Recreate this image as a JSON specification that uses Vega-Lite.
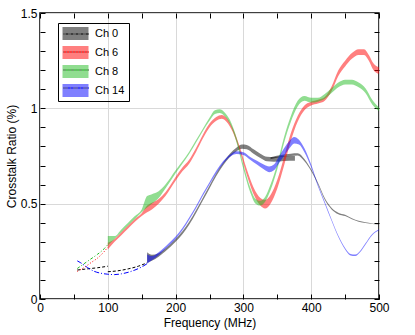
{
  "$schema": "https://vega.github.io/schema/vega-lite/v6.json",
  "width": 339,
  "height": 286,
  "autosize": "none",
  "padding": {"left": 40, "top": 13, "right": 36, "bottom": 36},
  "config": {
    "font": "Liberation Sans",
    "view": {"stroke": "#000000", "strokeWidth": 1.5},
    "axis": {"domain": false, "tickColor": "#000000", "labelColor": "#000000", "titleColor": "#000000", "labelFontSize": 12, "titleFontSize": 12, "titleFontWeight": "normal", "gridColor": "#d9d9d9", "gridWidth": 1}
  },
  "datasets": {
    "bands": [
      {"ch": "Ch 0", "seg": "A", "f": 158, "lo": 0.19, "hi": 0.245},
      {"ch": "Ch 0", "seg": "A", "f": 165, "lo": 0.2, "hi": 0.232},
      {"ch": "Ch 0", "seg": "A", "f": 175, "lo": 0.222, "hi": 0.24},
      {"ch": "Ch 0", "seg": "A", "f": 185, "lo": 0.25, "hi": 0.265},
      {"ch": "Ch 0", "seg": "A", "f": 200, "lo": 0.3, "hi": 0.315},
      {"ch": "Ch 0", "seg": "A", "f": 210, "lo": 0.34, "hi": 0.355},
      {"ch": "Ch 0", "seg": "A", "f": 220, "lo": 0.39, "hi": 0.405},
      {"ch": "Ch 0", "seg": "A", "f": 230, "lo": 0.45, "hi": 0.465},
      {"ch": "Ch 0", "seg": "A", "f": 240, "lo": 0.515, "hi": 0.53},
      {"ch": "Ch 0", "seg": "A", "f": 250, "lo": 0.58, "hi": 0.595},
      {"ch": "Ch 0", "seg": "A", "f": 260, "lo": 0.645, "hi": 0.66},
      {"ch": "Ch 0", "seg": "A", "f": 270, "lo": 0.7, "hi": 0.715},
      {"ch": "Ch 0", "seg": "A", "f": 280, "lo": 0.745, "hi": 0.762},
      {"ch": "Ch 0", "seg": "A", "f": 290, "lo": 0.775, "hi": 0.795},
      {"ch": "Ch 0", "seg": "A", "f": 298, "lo": 0.788, "hi": 0.81},
      {"ch": "Ch 0", "seg": "A", "f": 305, "lo": 0.785, "hi": 0.808},
      {"ch": "Ch 0", "seg": "A", "f": 315, "lo": 0.762, "hi": 0.785},
      {"ch": "Ch 0", "seg": "A", "f": 325, "lo": 0.74, "hi": 0.762},
      {"ch": "Ch 0", "seg": "A", "f": 335, "lo": 0.722, "hi": 0.746},
      {"ch": "Ch 0", "seg": "A", "f": 345, "lo": 0.72, "hi": 0.745},
      {"ch": "Ch 0", "seg": "A", "f": 360, "lo": 0.724, "hi": 0.75},
      {"ch": "Ch 0", "seg": "A", "f": 376, "lo": 0.725, "hi": 0.75},
      {"ch": "Ch 0", "seg": "B", "f": 340, "lo": 0.733, "hi": 0.743},
      {"ch": "Ch 0", "seg": "B", "f": 355, "lo": 0.745, "hi": 0.755},
      {"ch": "Ch 0", "seg": "B", "f": 370, "lo": 0.75, "hi": 0.762},
      {"ch": "Ch 0", "seg": "B", "f": 380, "lo": 0.752, "hi": 0.764},
      {"ch": "Ch 0", "seg": "B", "f": 390, "lo": 0.722, "hi": 0.734},
      {"ch": "Ch 0", "seg": "B", "f": 400, "lo": 0.67, "hi": 0.68},
      {"ch": "Ch 0", "seg": "B", "f": 410, "lo": 0.6, "hi": 0.61},
      {"ch": "Ch 0", "seg": "B", "f": 420, "lo": 0.52, "hi": 0.53},
      {"ch": "Ch 0", "seg": "B", "f": 430, "lo": 0.47, "hi": 0.479},
      {"ch": "Ch 0", "seg": "B", "f": 440, "lo": 0.445, "hi": 0.453},
      {"ch": "Ch 0", "seg": "B", "f": 450, "lo": 0.435, "hi": 0.442},
      {"ch": "Ch 0", "seg": "B", "f": 460, "lo": 0.418, "hi": 0.424},
      {"ch": "Ch 0", "seg": "B", "f": 470, "lo": 0.405, "hi": 0.41},
      {"ch": "Ch 0", "seg": "B", "f": 480, "lo": 0.398, "hi": 0.402},
      {"ch": "Ch 0", "seg": "B", "f": 490, "lo": 0.393, "hi": 0.396},
      {"ch": "Ch 0", "seg": "B", "f": 500, "lo": 0.39, "hi": 0.392},
      {"ch": "Ch 6", "seg": "A", "f": 100, "lo": 0.26, "hi": 0.295},
      {"ch": "Ch 6", "seg": "A", "f": 110, "lo": 0.3, "hi": 0.315},
      {"ch": "Ch 6", "seg": "A", "f": 120, "lo": 0.335, "hi": 0.35},
      {"ch": "Ch 6", "seg": "A", "f": 130, "lo": 0.37, "hi": 0.385},
      {"ch": "Ch 6", "seg": "A", "f": 140, "lo": 0.405, "hi": 0.42},
      {"ch": "Ch 6", "seg": "A", "f": 150, "lo": 0.435, "hi": 0.45},
      {"ch": "Ch 6", "seg": "A", "f": 158, "lo": 0.455, "hi": 0.49},
      {"ch": "Ch 6", "seg": "A", "f": 165, "lo": 0.47, "hi": 0.505},
      {"ch": "Ch 6", "seg": "A", "f": 175, "lo": 0.5, "hi": 0.525},
      {"ch": "Ch 6", "seg": "A", "f": 185, "lo": 0.54, "hi": 0.56},
      {"ch": "Ch 6", "seg": "A", "f": 200, "lo": 0.62, "hi": 0.64},
      {"ch": "Ch 6", "seg": "A", "f": 210, "lo": 0.67, "hi": 0.69},
      {"ch": "Ch 6", "seg": "A", "f": 220, "lo": 0.71, "hi": 0.73},
      {"ch": "Ch 6", "seg": "A", "f": 230, "lo": 0.77, "hi": 0.79},
      {"ch": "Ch 6", "seg": "A", "f": 240, "lo": 0.84, "hi": 0.86},
      {"ch": "Ch 6", "seg": "A", "f": 250, "lo": 0.9, "hi": 0.92},
      {"ch": "Ch 6", "seg": "A", "f": 260, "lo": 0.935, "hi": 0.955},
      {"ch": "Ch 6", "seg": "A", "f": 268, "lo": 0.945, "hi": 0.965},
      {"ch": "Ch 6", "seg": "A", "f": 275, "lo": 0.93, "hi": 0.95},
      {"ch": "Ch 6", "seg": "A", "f": 285, "lo": 0.87, "hi": 0.89},
      {"ch": "Ch 6", "seg": "A", "f": 295, "lo": 0.77, "hi": 0.795},
      {"ch": "Ch 6", "seg": "A", "f": 305, "lo": 0.65, "hi": 0.68},
      {"ch": "Ch 6", "seg": "A", "f": 315, "lo": 0.55, "hi": 0.585},
      {"ch": "Ch 6", "seg": "A", "f": 325, "lo": 0.49, "hi": 0.53},
      {"ch": "Ch 6", "seg": "A", "f": 332, "lo": 0.475, "hi": 0.52},
      {"ch": "Ch 6", "seg": "A", "f": 340, "lo": 0.5, "hi": 0.545},
      {"ch": "Ch 6", "seg": "A", "f": 350, "lo": 0.58, "hi": 0.625},
      {"ch": "Ch 6", "seg": "A", "f": 360, "lo": 0.7, "hi": 0.745},
      {"ch": "Ch 6", "seg": "A", "f": 370, "lo": 0.83, "hi": 0.87},
      {"ch": "Ch 6", "seg": "A", "f": 380, "lo": 0.93, "hi": 0.96},
      {"ch": "Ch 6", "seg": "A", "f": 390, "lo": 0.99, "hi": 1.015},
      {"ch": "Ch 6", "seg": "A", "f": 400, "lo": 1.015, "hi": 1.035},
      {"ch": "Ch 6", "seg": "A", "f": 410, "lo": 1.025, "hi": 1.045},
      {"ch": "Ch 6", "seg": "A", "f": 420, "lo": 1.04, "hi": 1.06},
      {"ch": "Ch 6", "seg": "A", "f": 430, "lo": 1.09, "hi": 1.115},
      {"ch": "Ch 6", "seg": "A", "f": 440, "lo": 1.17, "hi": 1.2},
      {"ch": "Ch 6", "seg": "A", "f": 450, "lo": 1.22, "hi": 1.25},
      {"ch": "Ch 6", "seg": "A", "f": 460, "lo": 1.26, "hi": 1.29},
      {"ch": "Ch 6", "seg": "A", "f": 470, "lo": 1.28, "hi": 1.31},
      {"ch": "Ch 6", "seg": "A", "f": 478, "lo": 1.28, "hi": 1.31},
      {"ch": "Ch 6", "seg": "A", "f": 485, "lo": 1.25, "hi": 1.28},
      {"ch": "Ch 6", "seg": "A", "f": 492, "lo": 1.2, "hi": 1.235},
      {"ch": "Ch 6", "seg": "A", "f": 500, "lo": 1.18, "hi": 1.215},
      {"ch": "Ch 8", "seg": "A", "f": 100, "lo": 0.28, "hi": 0.33},
      {"ch": "Ch 8", "seg": "A", "f": 110, "lo": 0.315, "hi": 0.33},
      {"ch": "Ch 8", "seg": "A", "f": 120, "lo": 0.35, "hi": 0.365},
      {"ch": "Ch 8", "seg": "A", "f": 130, "lo": 0.385, "hi": 0.4},
      {"ch": "Ch 8", "seg": "A", "f": 140, "lo": 0.42, "hi": 0.435},
      {"ch": "Ch 8", "seg": "A", "f": 150, "lo": 0.455, "hi": 0.47},
      {"ch": "Ch 8", "seg": "A", "f": 158, "lo": 0.48, "hi": 0.54},
      {"ch": "Ch 8", "seg": "A", "f": 165, "lo": 0.5, "hi": 0.55},
      {"ch": "Ch 8", "seg": "A", "f": 175, "lo": 0.53, "hi": 0.565},
      {"ch": "Ch 8", "seg": "A", "f": 185, "lo": 0.58, "hi": 0.6},
      {"ch": "Ch 8", "seg": "A", "f": 200, "lo": 0.66, "hi": 0.675},
      {"ch": "Ch 8", "seg": "A", "f": 210, "lo": 0.71, "hi": 0.722},
      {"ch": "Ch 8", "seg": "A", "f": 220, "lo": 0.76, "hi": 0.772},
      {"ch": "Ch 8", "seg": "A", "f": 230, "lo": 0.82, "hi": 0.832},
      {"ch": "Ch 8", "seg": "A", "f": 240, "lo": 0.88, "hi": 0.892},
      {"ch": "Ch 8", "seg": "A", "f": 250, "lo": 0.935, "hi": 0.95},
      {"ch": "Ch 8", "seg": "A", "f": 258, "lo": 0.97, "hi": 0.99},
      {"ch": "Ch 8", "seg": "A", "f": 265, "lo": 0.975, "hi": 0.995},
      {"ch": "Ch 8", "seg": "A", "f": 272, "lo": 0.96, "hi": 0.98},
      {"ch": "Ch 8", "seg": "A", "f": 280, "lo": 0.92, "hi": 0.94},
      {"ch": "Ch 8", "seg": "A", "f": 290, "lo": 0.82, "hi": 0.845},
      {"ch": "Ch 8", "seg": "A", "f": 300, "lo": 0.68, "hi": 0.705},
      {"ch": "Ch 8", "seg": "A", "f": 310, "lo": 0.56, "hi": 0.585},
      {"ch": "Ch 8", "seg": "A", "f": 318, "lo": 0.5, "hi": 0.525},
      {"ch": "Ch 8", "seg": "A", "f": 325, "lo": 0.49, "hi": 0.515},
      {"ch": "Ch 8", "seg": "A", "f": 332, "lo": 0.51, "hi": 0.535},
      {"ch": "Ch 8", "seg": "A", "f": 340, "lo": 0.57, "hi": 0.6},
      {"ch": "Ch 8", "seg": "A", "f": 350, "lo": 0.68, "hi": 0.71},
      {"ch": "Ch 8", "seg": "A", "f": 360, "lo": 0.82, "hi": 0.85},
      {"ch": "Ch 8", "seg": "A", "f": 370, "lo": 0.93, "hi": 0.96},
      {"ch": "Ch 8", "seg": "A", "f": 380, "lo": 1.01, "hi": 1.04},
      {"ch": "Ch 8", "seg": "A", "f": 390, "lo": 1.04, "hi": 1.065},
      {"ch": "Ch 8", "seg": "A", "f": 400, "lo": 1.03, "hi": 1.055},
      {"ch": "Ch 8", "seg": "A", "f": 410, "lo": 1.035, "hi": 1.055},
      {"ch": "Ch 8", "seg": "A", "f": 420, "lo": 1.05, "hi": 1.075},
      {"ch": "Ch 8", "seg": "A", "f": 430, "lo": 1.08, "hi": 1.105},
      {"ch": "Ch 8", "seg": "A", "f": 440, "lo": 1.11, "hi": 1.135},
      {"ch": "Ch 8", "seg": "A", "f": 450, "lo": 1.125, "hi": 1.15},
      {"ch": "Ch 8", "seg": "A", "f": 460, "lo": 1.125, "hi": 1.15},
      {"ch": "Ch 8", "seg": "A", "f": 470, "lo": 1.11, "hi": 1.135},
      {"ch": "Ch 8", "seg": "A", "f": 480, "lo": 1.08, "hi": 1.105},
      {"ch": "Ch 8", "seg": "A", "f": 490, "lo": 1.02, "hi": 1.045},
      {"ch": "Ch 8", "seg": "A", "f": 500, "lo": 0.985, "hi": 1.005},
      {"ch": "Ch 14", "seg": "A", "f": 158, "lo": 0.185, "hi": 0.235},
      {"ch": "Ch 14", "seg": "A", "f": 165, "lo": 0.203, "hi": 0.225},
      {"ch": "Ch 14", "seg": "A", "f": 175, "lo": 0.23, "hi": 0.245},
      {"ch": "Ch 14", "seg": "A", "f": 190, "lo": 0.28, "hi": 0.292},
      {"ch": "Ch 14", "seg": "A", "f": 200, "lo": 0.315, "hi": 0.328},
      {"ch": "Ch 14", "seg": "A", "f": 210, "lo": 0.36, "hi": 0.372},
      {"ch": "Ch 14", "seg": "A", "f": 220, "lo": 0.415, "hi": 0.427},
      {"ch": "Ch 14", "seg": "A", "f": 230, "lo": 0.475, "hi": 0.487},
      {"ch": "Ch 14", "seg": "A", "f": 240, "lo": 0.54, "hi": 0.552},
      {"ch": "Ch 14", "seg": "A", "f": 250, "lo": 0.6, "hi": 0.612},
      {"ch": "Ch 14", "seg": "A", "f": 260, "lo": 0.66, "hi": 0.672},
      {"ch": "Ch 14", "seg": "A", "f": 270, "lo": 0.71, "hi": 0.722},
      {"ch": "Ch 14", "seg": "A", "f": 280, "lo": 0.745, "hi": 0.757},
      {"ch": "Ch 14", "seg": "A", "f": 290, "lo": 0.76, "hi": 0.775},
      {"ch": "Ch 14", "seg": "A", "f": 300, "lo": 0.755, "hi": 0.77},
      {"ch": "Ch 14", "seg": "A", "f": 310, "lo": 0.73, "hi": 0.745},
      {"ch": "Ch 14", "seg": "A", "f": 320, "lo": 0.705, "hi": 0.725},
      {"ch": "Ch 14", "seg": "A", "f": 330, "lo": 0.68, "hi": 0.705},
      {"ch": "Ch 14", "seg": "A", "f": 338, "lo": 0.665, "hi": 0.695},
      {"ch": "Ch 14", "seg": "A", "f": 345, "lo": 0.675, "hi": 0.705},
      {"ch": "Ch 14", "seg": "A", "f": 352, "lo": 0.71, "hi": 0.745},
      {"ch": "Ch 14", "seg": "A", "f": 360, "lo": 0.75, "hi": 0.79},
      {"ch": "Ch 14", "seg": "A", "f": 368, "lo": 0.79, "hi": 0.83},
      {"ch": "Ch 14", "seg": "A", "f": 375, "lo": 0.815, "hi": 0.85},
      {"ch": "Ch 14", "seg": "A", "f": 382, "lo": 0.81, "hi": 0.835},
      {"ch": "Ch 14", "seg": "A", "f": 390, "lo": 0.77, "hi": 0.79},
      {"ch": "Ch 14", "seg": "A", "f": 400, "lo": 0.69, "hi": 0.705},
      {"ch": "Ch 14", "seg": "A", "f": 410, "lo": 0.59, "hi": 0.6},
      {"ch": "Ch 14", "seg": "A", "f": 420, "lo": 0.5, "hi": 0.51},
      {"ch": "Ch 14", "seg": "A", "f": 430, "lo": 0.41, "hi": 0.418},
      {"ch": "Ch 14", "seg": "A", "f": 440, "lo": 0.325, "hi": 0.333},
      {"ch": "Ch 14", "seg": "A", "f": 450, "lo": 0.26, "hi": 0.268},
      {"ch": "Ch 14", "seg": "A", "f": 458, "lo": 0.228, "hi": 0.236},
      {"ch": "Ch 14", "seg": "A", "f": 465, "lo": 0.225, "hi": 0.233},
      {"ch": "Ch 14", "seg": "A", "f": 472, "lo": 0.245, "hi": 0.252},
      {"ch": "Ch 14", "seg": "A", "f": 480, "lo": 0.285, "hi": 0.292},
      {"ch": "Ch 14", "seg": "A", "f": 490, "lo": 0.335, "hi": 0.341},
      {"ch": "Ch 14", "seg": "A", "f": 500, "lo": 0.36, "hi": 0.366}
    ],
    "lines": [
      {"ch": "Ch 0", "seg": "A", "f": 55, "v": 0.152},
      {"ch": "Ch 0", "seg": "A", "f": 65, "v": 0.156},
      {"ch": "Ch 0", "seg": "A", "f": 75, "v": 0.16},
      {"ch": "Ch 0", "seg": "A", "f": 85, "v": 0.164},
      {"ch": "Ch 0", "seg": "A", "f": 100, "v": 0.172},
      {"ch": "Ch 0", "seg": "B", "f": 100, "v": 0.143},
      {"ch": "Ch 0", "seg": "B", "f": 115, "v": 0.148},
      {"ch": "Ch 0", "seg": "B", "f": 130, "v": 0.158},
      {"ch": "Ch 0", "seg": "B", "f": 145, "v": 0.172},
      {"ch": "Ch 0", "seg": "B", "f": 158, "v": 0.19},
      {"ch": "Ch 6", "seg": "A", "f": 55, "v": 0.145},
      {"ch": "Ch 6", "seg": "A", "f": 65, "v": 0.165},
      {"ch": "Ch 6", "seg": "A", "f": 75, "v": 0.19},
      {"ch": "Ch 6", "seg": "A", "f": 85, "v": 0.215},
      {"ch": "Ch 6", "seg": "A", "f": 95, "v": 0.25},
      {"ch": "Ch 6", "seg": "A", "f": 100, "v": 0.272},
      {"ch": "Ch 8", "seg": "A", "f": 55, "v": 0.16},
      {"ch": "Ch 8", "seg": "A", "f": 65, "v": 0.185},
      {"ch": "Ch 8", "seg": "A", "f": 75, "v": 0.21},
      {"ch": "Ch 8", "seg": "A", "f": 85, "v": 0.235},
      {"ch": "Ch 8", "seg": "A", "f": 95, "v": 0.265},
      {"ch": "Ch 8", "seg": "A", "f": 100, "v": 0.285},
      {"ch": "Ch 14", "seg": "A", "f": 55, "v": 0.2},
      {"ch": "Ch 14", "seg": "A", "f": 60, "v": 0.19},
      {"ch": "Ch 14", "seg": "A", "f": 70, "v": 0.165},
      {"ch": "Ch 14", "seg": "A", "f": 80, "v": 0.145},
      {"ch": "Ch 14", "seg": "A", "f": 90, "v": 0.135},
      {"ch": "Ch 14", "seg": "A", "f": 100, "v": 0.13},
      {"ch": "Ch 14", "seg": "A", "f": 110, "v": 0.128},
      {"ch": "Ch 14", "seg": "A", "f": 120, "v": 0.132},
      {"ch": "Ch 14", "seg": "A", "f": 130, "v": 0.14},
      {"ch": "Ch 14", "seg": "A", "f": 140, "v": 0.152},
      {"ch": "Ch 14", "seg": "A", "f": 150, "v": 0.168},
      {"ch": "Ch 14", "seg": "A", "f": 158, "v": 0.185}
    ]
  },
  "layer": [
    {
      "data": {"name": "bands"},
      "mark": {"type": "area", "fillOpacity": 0.5, "strokeWidth": 0, "interpolate": "monotone"},
      "encoding": {
        "x": {"field": "f", "type": "quantitative", "scale": {"domain": [0, 500], "nice": false},
          "axis": {"orient": "bottom", "title": "Frequency (MHz)", "values": [0, 50, 100, 150, 200, 250, 300, 350, 400, 450, 500],
            "labelExpr": "datum.value % 100 == 0 ? datum.label : ''", "tickSize": -5, "labelPadding": 8, "titlePadding": 4, "labelFlush": false,
            "grid": true, "gridOpacity": {"condition": {"test": "datum.value % 100 == 0", "value": 1}, "value": 0}}},
        "y": {"field": "lo", "type": "quantitative", "scale": {"domain": [0, 1.5], "nice": false},
          "axis": {"orient": "left", "title": "Crosstalk Ratio (%)", "values": [0, 0.1, 0.2, 0.3, 0.4, 0.5, 0.6, 0.7, 0.8, 0.9, 1, 1.1, 1.2, 1.3, 1.4, 1.5],
            "labelExpr": "abs(datum.value * 2 - round(datum.value * 2)) < 0.001 ? format(datum.value, '~g') : ''", "tickSize": -5, "labelPadding": 8, "titlePadding": 2, "labelFlush": false,
            "grid": true, "gridOpacity": {"condition": {"test": "abs(datum.value * 2 - round(datum.value * 2)) < 0.001", "value": 1}, "value": 0}}},
        "y2": {"field": "hi"},
        "fill": {"field": "ch", "type": "nominal", "scale": {"domain": ["Ch 0", "Ch 6", "Ch 8", "Ch 14"], "range": ["#000000", "#ff0000", "#22bb22", "#0000ff"]},
          "legend": {"title": null, "orient": "none", "legendX": 18, "legendY": 10, "strokeColor": "#000000", "padding": 4, "symbolType": "M-2,-1H2V1H-2Z", "symbolSize": 169, "symbolOffset": 7, "symbolOpacity": 0.5, "symbolStrokeWidth": 0, "labelFontSize": 11, "labelOffset": 13, "rowPadding": 6, "labelColor": "#000000"}},
        "detail": {"field": "seg"}
      }
    },
    {
      "data": {"name": "lines"},
      "mark": {"type": "line", "strokeWidth": 1, "interpolate": "monotone"},
      "encoding": {
        "x": {"field": "f", "type": "quantitative", "scale": {"domain": [0, 500], "nice": false},
          "axis": {"orient": "top", "title": null, "labels": false, "grid": false, "values": [0, 50, 100, 150, 200, 250, 300, 350, 400, 450, 500], "tickSize": -5}},
        "y": {"field": "v", "type": "quantitative", "scale": {"domain": [0, 1.5], "nice": false},
          "axis": {"orient": "right", "title": null, "labels": false, "grid": false, "values": [0, 0.1, 0.2, 0.3, 0.4, 0.5, 0.6, 0.7, 0.8, 0.9, 1, 1.1, 1.2, 1.3, 1.4, 1.5], "tickSize": -5}},
        "stroke": {"field": "ch", "type": "nominal", "sort": ["Ch 0", "Ch 6", "Ch 8", "Ch 14"], "scale": {"range": ["#000000", "#ff0000", "#22bb22", "#0000ff"]},
          "legend": {"title": null, "orient": "none", "legendX": 18, "legendY": 10, "padding": 4, "symbolType": "M-2,0H2", "symbolSize": 169, "symbolOffset": 7, "symbolStrokeWidth": 1, "labelFontSize": 11, "labelOffset": 13, "rowPadding": 6, "labelExpr": "''"}},
        "strokeDash": {"field": "ch", "type": "nominal", "sort": ["Ch 0", "Ch 6", "Ch 8", "Ch 14"], "scale": {"range": [[3, 2], [1, 2], [3, 2, 1, 2], [5, 2, 1, 2]]},
          "legend": {"title": null, "orient": "none", "legendX": 18, "legendY": 10, "padding": 4, "symbolType": "M-2,0H2", "symbolSize": 169, "symbolOffset": 7, "symbolStrokeWidth": 1, "labelFontSize": 11, "labelOffset": 13, "rowPadding": 6, "labelExpr": "''"}},
        "detail": {"field": "seg"}
      }
    }
  ],
  "resolve": {"axis": {"x": "independent", "y": "independent"}}
}
